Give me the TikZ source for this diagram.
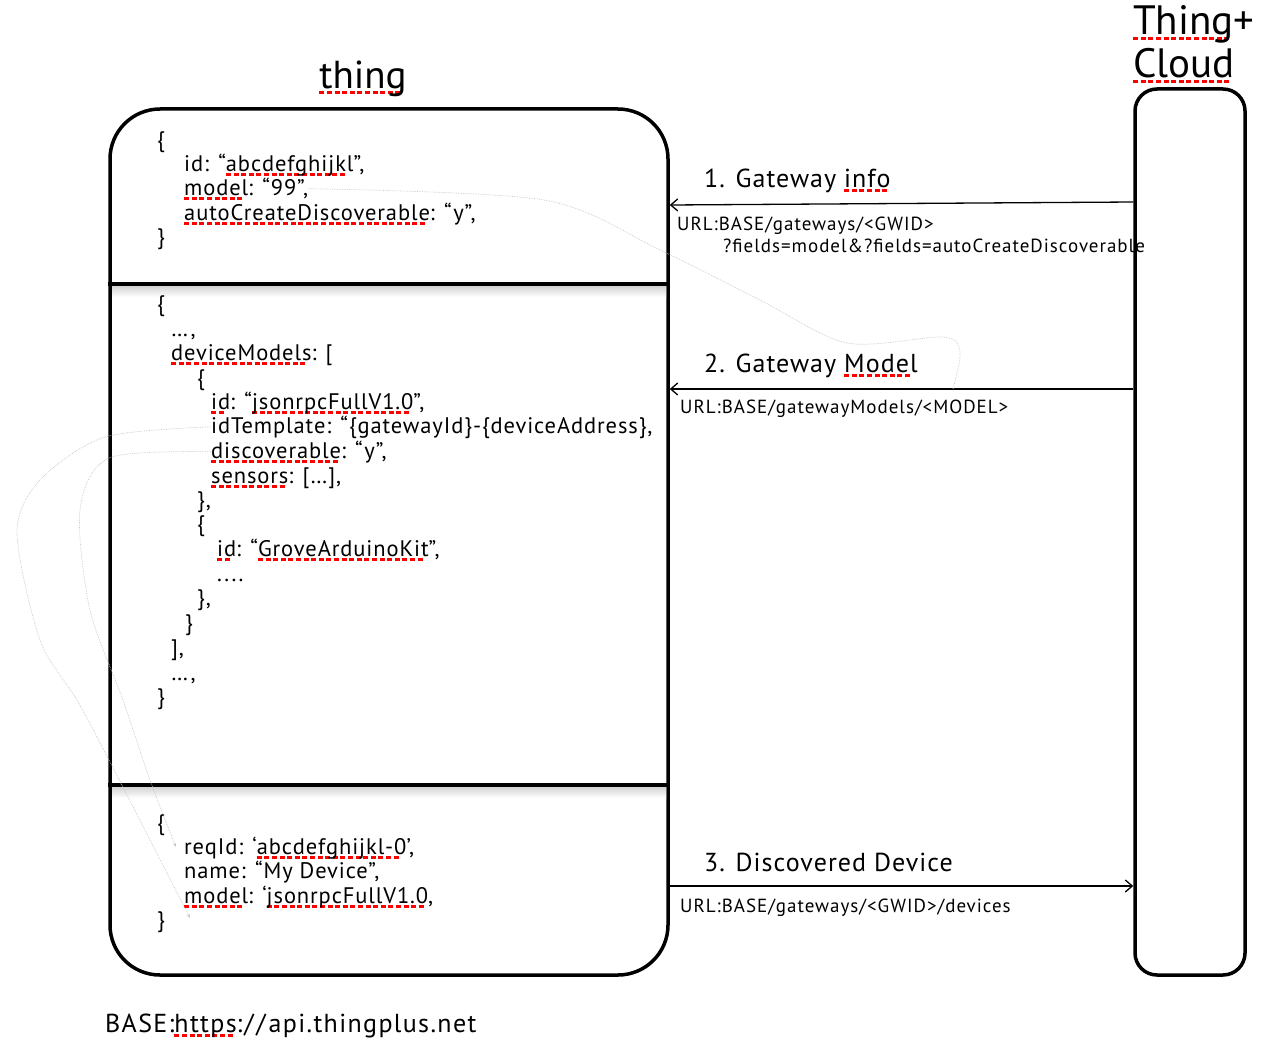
\documentclass[tikz,border=0pt]{standalone}
\usepackage{fontspec}
\setmainfont{PT Sans}[LetterSpace=4]
\newfontfamily\titlefont{PT Sans}
\newfontfamily\urlfont{PT Sans}[LetterSpace=5.2]
\usetikzlibrary{arrows.meta}
% red spell-check squiggle
\newcommand\sq[1]{\begingroup\setbox0\hbox{#1}\rlap{\color{red}\leaders\hbox{\rule[-5pt]{5pt}{2.6pt}\kern2.6pt}\hskip\wd0\relax}\box0\endgroup}
\tikzset{
  json/.style={anchor=base west, inner sep=0pt, font=\fontsize{22.5}{24}\selectfont},
  msglabel/.style={anchor=base west, inner sep=0pt, font=\fontsize{26}{28}\selectfont},
  urltext/.style={anchor=base west, inner sep=0pt, font=\urlfont\fontsize{19}{22}\selectfont},
  title/.style={anchor=base west, inner sep=0pt, font=\titlefont\fontsize{41}{44}\selectfont},
  panel/.style={draw, line width=3.5pt, inner sep=0pt},
  call/.style={line width=1.3pt, -{Straight Barb[length=7pt,width=12pt]}},
  note/.style={gray!45, densely dotted, line width=0.7pt},
}
\begin{document}
\begin{tikzpicture}[x=1pt,y=-1pt]
\useasboundingbox (0,0) rectangle (1273,1046);
\node[panel, rounded corners=50pt, minimum width=558pt, minimum height=866pt] (thingbox) at (389,542) {};
\node[panel, rounded corners=22pt, minimum width=110pt, minimum height=886pt] (cloudbox) at (1190,532) {};
\shade[top color=gray!35, bottom color=white] (112,286) rectangle (666,297);
\shade[top color=gray!35, bottom color=white] (112,787) rectangle (666,798);
\draw[line width=3.5pt] (thingbox.west |- 0,284) -- (thingbox.east |- 0,284);
\draw[line width=3.5pt] (thingbox.west |- 0,785) -- (thingbox.east |- 0,785);
\node[title, anchor=base, font=\titlefont\fontsize{39}{40}\selectfont] (thingtitle) at (363,89) {\sq{thing}};
\node[title] (cloudtitle) at (1133,35) {\sq{Thing}+};
\node[title] at (1133,78) {\sq{Cloud}};
% gateway info
\node[json] at (157,147) {\{};
\node[json] (gwid) at (184,171) {id: “\sq{abcdefghijkl}”,};
\node[json] (m99) at (184,195) {\sq{model}: “99”,};
\node[json] at (184,220) {\sq{autoCreateDiscoverable}: “y”,};
\node[json] at (157,244) {\}};
% gateway model
\node[json] at (157,311) {\{};
\node[json] at (171,336) {…,};
\node[json] at (171,360) {\sq{deviceModels}: [};
\node[json] at (197,385) {\{};
\node[json] at (211,409) {\sq{id}: “\sq{jsonrpcFullV1.0}”,};
\node[json] (idtpl) at (211,433) {idTemplate: “\{gatewayId\}-\{deviceAddress\},};
\node[json] (disc) at (211,458) {\sq{discoverable}: “y”,};
\node[json] at (211,483) {\sq{sensors}: […],};
\node[json] at (197,507) {\},};
\node[json] at (197,531) {\{};
\node[json] at (217,556) {\sq{id}: “\sq{GroveArduinoKit}”,};
\node[json] at (217,581) {....};
\node[json] at (197,605) {\},};
\node[json] at (185,630) {\}};
\node[json] at (171,655) {],};
\node[json] at (171,680) {…,};
\node[json] at (157,704) {\}};
% discovered device
\node[json] at (157,830) {\{};
\node[json] (reqid) at (184,854) {reqId: ‘\sq{abcdefghijkl-0}’,};
\node[json] at (184,878) {name: “My Device”,};
\node[json] (devmodel) at (184,903) {\sq{model}: ‘\sq{jsonrpcFullV1.0},};
\node[json] (devend) at (157,927) {\}};
% messages
\draw[call] (cloudbox.west |- 0,202) -- (thingbox.east |- 0,205);
\draw[call] (cloudbox.west |- 0,389) -- (thingbox.east |- 0,389);
\draw[call] (thingbox.east |- 0,886) -- (cloudbox.west |- 0,886);
\node[msglabel] at (704,187) {1. Gateway \sq{info}};
\node[urltext] at (677,230) {URL:BASE/gateways/<GWID>};
\node[urltext] at (723,252) {?fields=model\&?fields=autoCreateDiscoverable};
\node[msglabel] at (704,372) {2. Gateway \sq{Model}};
\node[urltext] at (680,413) {URL:BASE/gatewayModels/<MODEL>};
\node[msglabel] at (704,871) {3. Discovered Device};
\node[urltext] at (680,912) {URL:BASE/gateways/<GWID>/devices};
\node[anchor=base west, inner sep=0pt, font=\urlfont\fontsize{26}{28}\selectfont] (base) at (105,1032) {BASE:\sq{https}:/\kern3pt/\kern3pt api.thingplus.net};
% faint links
\coordinate (hit) at (953,389);
\draw[note] plot[smooth] coordinates {(m99.east) (544,200) (660,250) (760,300) (847,343) (943,337) (960,352) (hit)};
\draw[note, -{Stealth[length=4pt]}] plot[smooth] coordinates {(idtpl.west) (105,437) (40,480) (17,533) (40,640) (77,700) (110,762) (190,918)};
\draw[note, -{Stealth[length=4pt]}] plot[smooth] coordinates {(disc.west) (109,458) (80,510) (90,610) (123,700) (150,780) (176,847)};
\end{tikzpicture}
\end{document}
